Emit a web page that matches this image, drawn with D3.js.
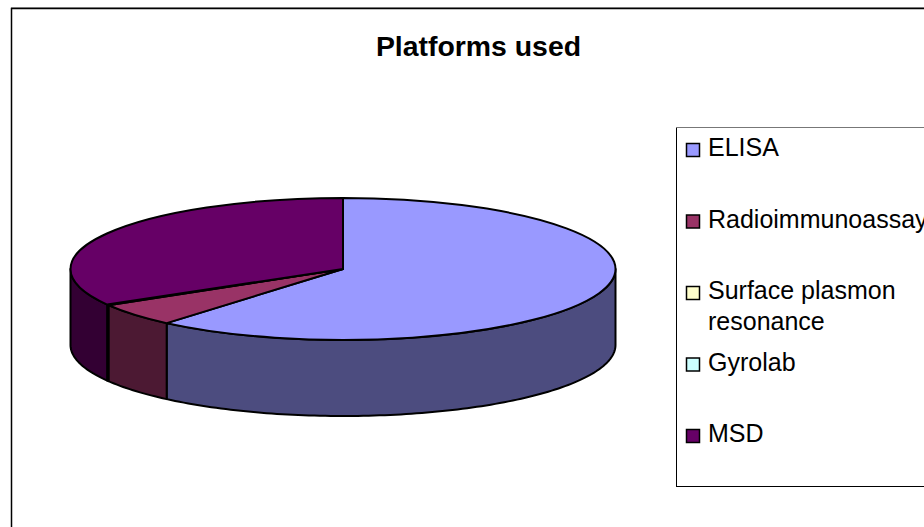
<!DOCTYPE html>
<html>
<head>
<meta charset="utf-8">
<title>Platforms used</title>
<script src="https://cdn.jsdelivr.net/npm/d3@7"></script>
<style>
  html, body { margin: 0; padding: 0; background: #fff; overflow: hidden; }
  svg { display: block; }
  text { font-family: "Liberation Sans", Arial, sans-serif; fill: #000; }
</style>
</head>
<body>
<script>
var categories = ["ELISA", "Radioimmunoassay", "Surface plasmon resonance", "Gyrolab", "MSD"];
var shares = [61.2, 5.3, 0.15, 0, 33.35];
var colors = ["#9999ff", "#993366", "#ffffcc", "#ccffff", "#660066"];
var sideColors = ["#4c4c7f", "#4c1933", "#7f7f66", "#667f7f", "#330033"];

var width = 924, height = 527;
var cx = 343, cy = 269, rx = 272.5, ry = 71, depth = 76;

var svg = d3.select("body").append("svg")
    .attr("width", width)
    .attr("height", height);

// chart frame, runs off the right and bottom of the picture
svg.append("rect")
    .attr("x", 11.5).attr("y", 8.5)
    .attr("width", 1000).attr("height", 1000)
    .attr("fill", "#fff")
    .attr("stroke", "#000")
    .attr("stroke-width", 1.5);

// the scan's top edges read grey
svg.append("line")
    .attr("x1", 11).attr("x2", width)
    .attr("y1", 7.5).attr("y2", 7.5)
    .attr("stroke", "#777");

svg.append("text")
    .attr("x", 478.5).attr("y", 56)
    .attr("text-anchor", "middle")
    .attr("font-size", 28.4)
    .attr("font-weight", "bold")
    .text("Platforms used");

var slices = d3.pie().sort(null)(shares);

function px(a) { return cx + rx * Math.sin(a); }
function py(a) { return cy - ry * Math.cos(a); }

// walls, only the front half of the rim shows
var frontStart = Math.PI / 2, frontEnd = Math.PI * 1.5;

function sidePath(d) {
    var a0 = Math.max(d.startAngle, frontStart),
        a1 = Math.min(d.endAngle, frontEnd);
    if (a1 <= a0) return null;
    var n = Math.max(2, Math.ceil((a1 - a0) / 0.02));
    var angles = d3.range(n + 1).map(function (i) { return a0 + (a1 - a0) * i / n; });
    var top = angles.map(function (a) { return [px(a), py(a)]; });
    var bottom = angles.slice().reverse().map(function (a) { return [px(a), py(a) + depth]; });
    return d3.line()(top.concat(bottom)) + "Z";
}

var pie = svg.append("g");

pie.selectAll("path.side")
    .data(slices.filter(function (d) { return sidePath(d); }))
    .enter().append("path")
    .attr("class", "side")
    .attr("d", sidePath)
    .attr("fill", function (d) { return sideColors[d.index]; })
    .attr("stroke", "#000")
    .attr("stroke-width", 2)
    .attr("stroke-linejoin", "round");

// lid, a flat d3 arc squashed into the ellipse
var arc = d3.arc().innerRadius(0).outerRadius(rx);

pie.append("g")
    .attr("transform", "translate(" + cx + "," + cy + ") scale(1," + (ry / rx) + ")")
    .selectAll("path.top")
    .data(slices.filter(function (d) { return d.value > 0; }))
    .enter().append("path")
    .attr("class", "top")
    .attr("d", arc)
    .attr("fill", function (d) { return colors[d.index]; })
    .attr("stroke", "#000")
    .attr("stroke-width", 2)
    .attr("stroke-linejoin", "round")
    .attr("vector-effect", "non-scaling-stroke");

// legend
svg.append("rect")
    .attr("x", 676.5).attr("y", 127.5)
    .attr("width", 400).attr("height", 359)
    .attr("fill", "#fff")
    .attr("stroke", "#000");

svg.append("line")
    .attr("x1", 676).attr("x2", width)
    .attr("y1", 127.5).attr("y2", 127.5)
    .attr("stroke", "#777");

var legendY = d3.scalePoint().domain(categories).range([150, 436]);

var rows = svg.selectAll("g.legend")
    .data(categories)
    .enter().append("g")
    .attr("class", "legend")
    .attr("transform", function (d) { return "translate(0," + legendY(d) + ")"; });

rows.append("rect")
    .attr("x", 686.5).attr("y", -6.5)
    .attr("width", 13).attr("height", 13)
    .attr("fill", function (d, i) { return colors[i]; })
    .attr("stroke", "#000")
    .attr("stroke-width", 1.5);

rows.each(function (d) {
    var words = d === "Surface plasmon resonance" ? ["Surface plasmon", "resonance"] : [d];
    var label = d3.select(this).append("text")
        .attr("x", 708)
        .attr("y", 6)
        .attr("font-size", 25);
    words.forEach(function (w, i) {
        label.append("tspan")
            .attr("x", 708)
            .attr("dy", i ? 31 : 0)
            .text(w);
    });
});
</script>
</body>
</html>
